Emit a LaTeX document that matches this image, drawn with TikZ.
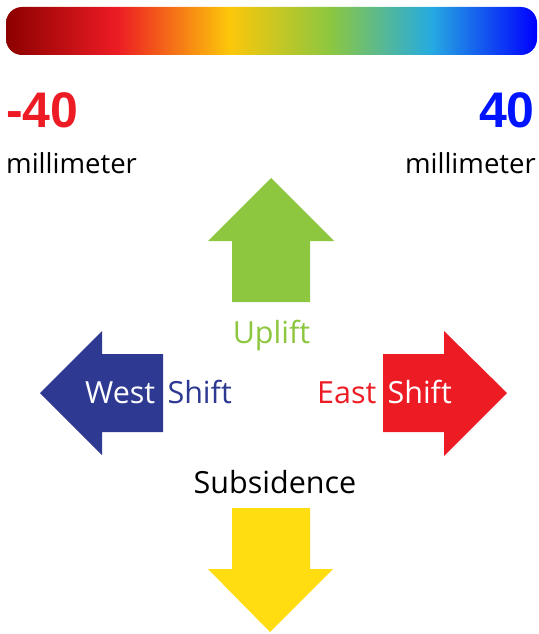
\documentclass[tikz,border=0pt]{standalone}
\usepackage{fontspec}
\setmainfont{Open Sans}
\newfontfamily\numfont{Liberation Sans}
\usepackage{tikz}

\definecolor{uplift}{RGB}{141,198,63}
\definecolor{westblue}{RGB}{46,57,145}
\definecolor{eastred}{RGB}{237,28,36}
\definecolor{sinkyellow}{RGB}{255,221,17}
\definecolor{maxblue}{RGB}{0,20,255}

\pgfdeclarehorizontalshading{mmscale}{100bp}{%
  rgb(0bp)=(0.55,0,0);
  rgb(25bp)=(0.55,0,0);
  rgb(35.5bp)=(0.93,0.11,0.14);
  rgb(46bp)=(0.99,0.78,0.04);
  rgb(55.5bp)=(0.55,0.78,0.25);
  rgb(65bp)=(0.15,0.67,0.88);
  rgb(75bp)=(0,0,1);
  rgb(100bp)=(0,0,1)}

\begin{document}
\begin{tikzpicture}[x=1pt,y=-1pt,
  lbl/.style = {inner sep=0pt, font=\fontsize{30.5}{34}\selectfont},
  num/.style = {inner sep=0pt, font=\numfont\bfseries\fontsize{50}{56}\selectfont},
  unit/.style = {inner sep=0pt, font=\fontsize{27.5}{32}\selectfont}]
    \useasboundingbox (0,0) rectangle (538,634);
    % colour scale
    \shade[shading=mmscale, rounded corners=16pt] (6,7) rectangle (537,55);
    \node[num, text=eastred, anchor=base west] (min) at (6,127) {-40};
    \node[num, text=maxblue, anchor=base east] (max) at (535,127) {40};
    \node[unit, anchor=base west] (minunit) at (6,173) {millimeter};
    \node[unit, anchor=base east] (maxunit) at (536,173) {millimeter};
    % arrows
    \fill[uplift] (271,178) -- (334,241) -- (310,241) -- (310,302) -- (232,302) -- (232,241) -- (208,241) -- cycle;
    \fill[sinkyellow] (270,632) -- (333,569) -- (310,569) -- (310,508) -- (232,508) -- (232,569) -- (208,569) -- cycle;
    \fill[westblue] (40,393) -- (102,331) -- (102,354) -- (163,354) -- (163,432) -- (102,432) -- (102,455) -- cycle;
    \fill[eastred] (507,393) -- (444,331) -- (444,354) -- (383,354) -- (383,432) -- (444,432) -- (444,456) -- cycle;
    % labels
    \node[lbl, text=uplift, anchor=base] (up) at (271.5,343) {Uplift};
    \node[lbl, anchor=base] (down) at (275,493) {Subsidence};
    \node[lbl, text=white, anchor=base west] (west) at (85,403) {West};
    \node[lbl, text=westblue, anchor=base east] (westshift) at (232,403) {Shift};
    \node[lbl, text=eastred, anchor=base west] (east) at (317,403) {East};
    \node[lbl, text=white, anchor=base east] (eastshift) at (452,403) {Shift};
\end{tikzpicture}
\end{document}
